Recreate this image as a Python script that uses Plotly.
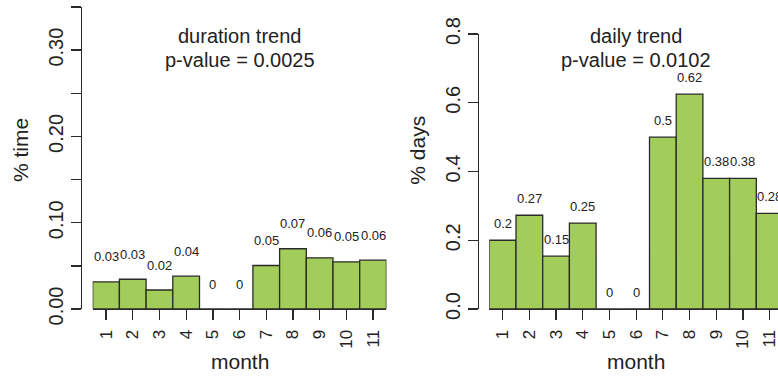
import plotly.graph_objects as go

# ---- data ----
months = list(range(1, 12))
month_labels = [str(m) for m in months]

duration_pct = [0.0314, 0.0345, 0.022, 0.038, 0, 0, 0.0504, 0.0698, 0.0593, 0.0547, 0.0566]
duration_labels = ["0.03", "0.03", "0.02", "0.04", "0", "0", "0.05", "0.07", "0.06", "0.05", "0.06"]

daily_pct = [0.2, 0.2727, 0.1538, 0.25, 0, 0, 0.5, 0.625, 0.38, 0.38, 0.278]
daily_labels = ["0.2", "0.27", "0.15", "0.25", "0", "0", "0.5", "0.62", "0.38", "0.38", "0.28"]

duration_ytickvals = [0, 0.05, 0.10, 0.15, 0.20, 0.25, 0.30, 0.35]
duration_yticktext = ["0.00", "", "0.10", "", "0.20", "", "0.30", ""]
daily_ytickvals = [0, 0.2, 0.4, 0.6, 0.8]
daily_yticktext = ["0.0", "0.2", "0.4", "0.6", "0.8"]

titles = [("duration trend", "p-value = 0.0025"), ("daily trend", "p-value = 0.0102")]
ytitles = ["% time", "% days"]
xtitle = "month"

# ---- styling / layout helpers ----
W, H = 778, 376
FONT = "Liberation Sans, Arial, sans-serif"
TXT = "#222222"
LINE = "#2a2a2a"
FILL = "#A2CD5A"
BARW = 26.7  # px per bar


def px(x):
    return x / W


def py(y):
    return 1 - y / H


fig = go.Figure()

fig.add_trace(go.Bar(x=months, y=duration_pct, width=1, xaxis="x", yaxis="y",
                     marker=dict(color=FILL, line=dict(color=LINE, width=1.3)),
                     hoverinfo="skip"))
fig.add_trace(go.Bar(x=months, y=daily_pct, width=1, xaxis="x2", yaxis="y2",
                     marker=dict(color=FILL, line=dict(color=LINE, width=1.3)),
                     hoverinfo="skip"))

left_x0, left_x1 = 92.7, 92.7 + 11 * BARW
right_x0 = 489.3
right_xmax = 0.5 + (W - right_x0) / BARW

xcommon = dict(tickmode="array", tickvals=months, ticktext=month_labels, tickangle=-90,
               ticks="outside", ticklen=10, tickwidth=1.3, tickcolor=LINE, automargin=False,
               showline=True, linecolor=LINE, linewidth=1.1, showgrid=False, zeroline=False,
               tickfont=dict(family=FONT, size=17, color=TXT), ticklabelstandoff=3,
               ticklabeloverflow="allow")
ycommon = dict(tickmode="array", tickangle=-90, ticks="outside", ticklen=10, tickwidth=1.3,
               tickcolor=LINE, showline=True, linecolor=LINE, linewidth=1.3, showgrid=False,
               zeroline=False, tickfont=dict(family=FONT, size=20, color=TXT), anchor="free",
               automargin=False)

fig.update_layout(
    width=W, height=H, margin=dict(l=0, r=0, t=0, b=0, autoexpand=False),
    paper_bgcolor="white", plot_bgcolor="white", showlegend=False, bargap=0,
    xaxis=dict(domain=[px(left_x0), px(left_x1)], range=[0.5, 11.5], anchor="y", **xcommon),
    yaxis=dict(domain=[py(309), py(7)], range=[0, 0.35], position=px(81),
               tickvals=duration_ytickvals, ticktext=duration_yticktext, **ycommon),
    xaxis2=dict(domain=[px(right_x0), 1.0], range=[0.5, right_xmax], anchor="y2", **xcommon),
    yaxis2=dict(domain=[py(309), py(34)], range=[0, 0.8], position=px(478),
                tickvals=daily_ytickvals, ticktext=daily_yticktext, **ycommon),
)

ann = []
for xr, yr, vals, labs, shift in [("x", "y", duration_pct, duration_labels, 25),
                                  ("x2", "y2", daily_pct, daily_labels, 17)]:
    for m, v, t in zip(months, vals, labs):
        ann.append(dict(x=m, y=v, xref=xr, yref=yr, text=t, showarrow=False,
                        yshift=shift, xanchor="center", yanchor="middle",
                        font=dict(family=FONT, size=13, color=TXT)))

centers = [(left_x0 + left_x1) / 2, (right_x0 + right_x0 + 11 * BARW) / 2]
for cx, (t1, t2) in zip(centers, titles):
    ann.append(dict(x=px(cx), y=py(36), xref="paper", yref="paper", text=t1, showarrow=False,
                    xanchor="center", yanchor="middle", font=dict(family=FONT, size=20, color=TXT)))
    ann.append(dict(x=px(cx), y=py(60), xref="paper", yref="paper", text=t2, showarrow=False,
                    xanchor="center", yanchor="middle", font=dict(family=FONT, size=20, color=TXT)))
    ann.append(dict(x=px(cx), y=py(361), xref="paper", yref="paper", text=xtitle, showarrow=False,
                    xanchor="center", yanchor="middle", font=dict(family=FONT, size=21, color=TXT)))

for xp, t in zip([20, 416.7], ytitles):
    ann.append(dict(x=px(xp), y=py(150), xref="paper", yref="paper", text=t, showarrow=False,
                    textangle=-90, xanchor="center", yanchor="middle",
                    font=dict(family=FONT, size=21, color=TXT)))

fig.update_layout(annotations=ann)
fig.write_html("out.html", config={"displayModeBar": False, "staticPlot": True},
               post_script="document.body.style.margin='0';document.body.style.overflow='hidden';")
